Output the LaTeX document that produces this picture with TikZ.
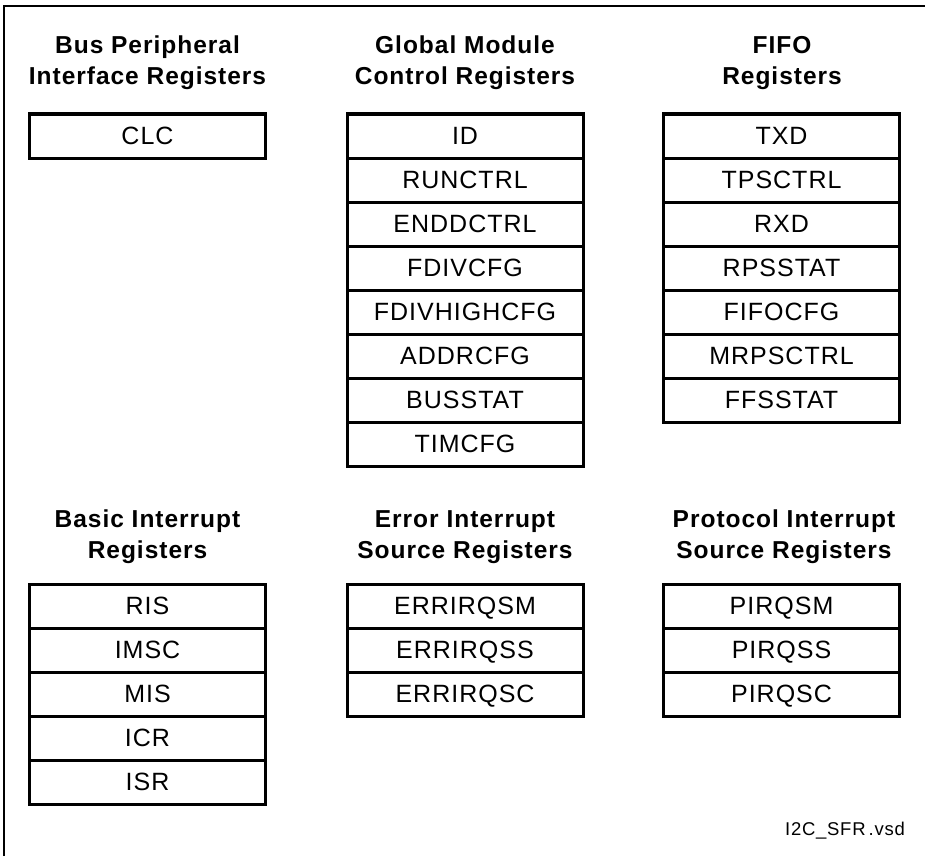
\documentclass[tikz,border=0pt]{standalone}
\usepackage{fontspec}
\setmainfont{Liberation Sans}[LetterSpace=4]
\begin{document}
\begin{tikzpicture}[x=1pt,y=-1pt,
  reg/.style={draw, line width=3pt, minimum width=236pt, minimum height=44pt,
    inner sep=0pt, text height=17.8pt, text depth=0pt,
    font=\fontsize{25}{28}\selectfont},
  grptitle/.style={align=center, anchor=north, inner sep=0pt,
    font=\bfseries\fontsize{24.5}{31}\selectfont},
  frameline/.style={line width=1.5pt},
  footer/.style={anchor=base east, inner sep=0pt, font=\fontsize{18.5}{20}\selectfont}]
\useasboundingbox (0,0) rectangle (925,856);
\draw[frameline] (4,856) -- (4,6) -- (925,6);

% titles
\node[grptitle] (t1) at (147.5,36) {Bus Peripheral\\Interface Registers};
\node[grptitle] (t2) at (465,36) {Global Module\\Control Registers};
\node[grptitle] (t3) at (782,36) {FIFO\\Registers};
\node[grptitle] (t4) at (147.5,510) {Basic Interrupt\\Registers};
\node[grptitle] (t5) at (465,510) {Error Interrupt\\Source Registers};
\node[grptitle] (t6) at (784,510) {Protocol Interrupt\\Source Registers};

% register stacks
\node[reg] (clc) at (147.5,136) {CLC};
\foreach \t [count=\i] in {ID,RUNCTRL,ENDDCTRL,FDIVCFG,FDIVHIGHCFG,ADDRCFG,BUSSTAT,TIMCFG}
  \node[reg] (g\i) at (465,{136+(\i-1)*44}) {\t};
\foreach \t [count=\i] in {TXD,TPSCTRL,RXD,RPSSTAT,FIFOCFG,MRPSCTRL,FFSSTAT}
  \node[reg] (f\i) at (781.5,{136+(\i-1)*44}) {\t};
\foreach \t [count=\i] in {RIS,IMSC,MIS,ICR,ISR}
  \node[reg] (b\i) at (147.5,{606+(\i-1)*44}) {\t};
\foreach \t [count=\i] in {ERRIRQSM,ERRIRQSS,ERRIRQSC}
  \node[reg] (e\i) at (465,{606+(\i-1)*44}) {\t};
\foreach \t [count=\i] in {PIRQSM,PIRQSS,PIRQSC}
  \node[reg] (p\i) at (781.5,{606+(\i-1)*44}) {\t};

\node[footer] (fn) at (905,835) {I2C\_SFR\kern3pt.vsd};
\end{tikzpicture}
\end{document}
